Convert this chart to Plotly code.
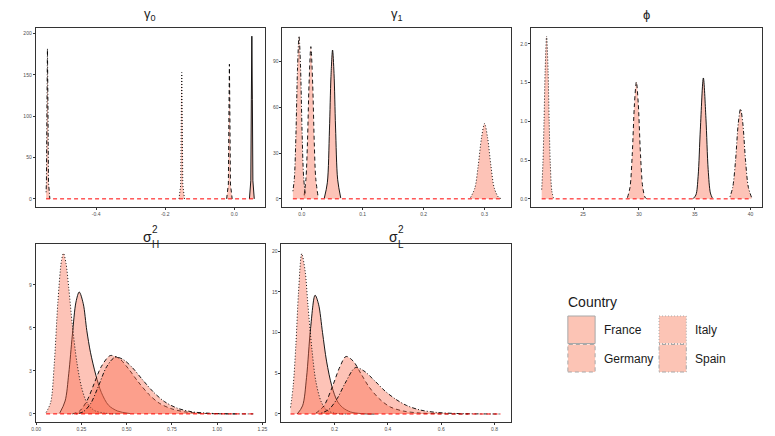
import plotly.graph_objects as go

W, H = 775, 436

countries = ["France", "Germany", "Italy", "Spain"]
dashes = {"France": "solid", "Germany": "4px,3px", "Italy": "1px,2px", "Spain": "1px,2px,4px,2px"}

# ---- gamma_0 ----
g0_france_x = [0.044, 0.048, 0.0495, 0.051, 0.0525, 0.054, 0.058]
g0_france_y = [0, 22, 120, 197, 120, 22, 0]
g0_germany_x = [-0.022, -0.017, -0.0155, -0.014, -0.0125, -0.011, -0.006]
g0_germany_y = [0, 18, 100, 163, 100, 18, 0]
g0_italy_x = [-0.160, -0.155, -0.1535, -0.152, -0.1505, -0.149, -0.144]
g0_italy_y = [0, 17, 93, 153, 93, 17, 0]
g0_spain_x = [-0.545, -0.544, -0.5425, -0.541, -0.5395, -0.538, -0.534]
g0_spain_y = [8, 20, 110, 182, 110, 20, 0]
g0_base = [-0.545, 0.058]

# ---- gamma_1 ----
g1_france_x = [0.037, 0.042, 0.0455, 0.048, 0.0506, 0.053, 0.0555, 0.059, 0.064]
g1_france_y = [0.4, 10.5, 45, 80, 97.4, 82, 47, 12.5, 0.6]
g1_germany_x = [0.004, 0.007, 0.0095, 0.012, 0.015, 0.018, 0.0205, 0.023, 0.027]
g1_germany_y = [2.3, 13.5, 38, 75, 99.6, 75, 38, 13.5, 1.1]
g1_italy_x = [0.277, 0.284, 0.2895, 0.295, 0.300, 0.305, 0.3105, 0.316, 0.323, 0.327]
g1_italy_y = [0.9, 7, 21.5, 40, 49.3, 40, 21.5, 7, 1, 0.2]
g1_spain_x = [-0.0145, -0.012, -0.0095, -0.007, -0.0044, -0.002, 0.0005, 0.003, 0.006]
g1_spain_y = [5, 14, 42, 84, 106.5, 87, 45, 15, 2.2]
g1_base = [-0.0145, 0.3268]

# ---- phi ----
phi_france_x = [34.85, 35.1, 35.3, 35.5, 35.77, 36.0, 36.2, 36.4, 36.57]
phi_france_y = [0.003, 0.05, 0.29, 0.9, 1.56, 1.04, 0.38, 0.075, 0.012]
phi_germany_x = [28.97, 29.2, 29.4, 29.6, 29.77, 29.94, 30.14, 30.34, 30.55, 30.69]
phi_germany_y = [0.015, 0.15, 0.57, 1.23, 1.51, 1.23, 0.57, 0.15, 0.02, 0.003]
phi_italy_x = [21.29, 21.4, 21.5, 21.6, 21.73, 21.86, 21.96, 22.06, 22.2, 22.35]
phi_italy_y = [0.12, 0.46, 1.0, 1.66, 2.1, 1.66, 1.0, 0.46, 0.1, 0.01]
phi_spain_x = [38.15, 38.4, 38.65, 38.9, 39.1, 39.3, 39.55, 39.8, 40.09]
phi_spain_y = [0.026, 0.15, 0.49, 0.98, 1.16, 0.98, 0.49, 0.15, 0.018]
phi_base = [21.29, 40.09]

# ---- sigma^2_H ----
sh_france_x = [0.13, 0.16, 0.18, 0.20, 0.22, 0.238, 0.26, 0.28, 0.30, 0.33, 0.36, 0.40, 0.45, 0.52]
sh_france_y = [0.05, 0.9, 2.8, 5.5, 7.8, 8.5, 7.7, 5.8, 4.3, 2.7, 1.5, 0.6, 0.2, 0.02]
sh_germany_x = [0.20, 0.24, 0.28, 0.32, 0.36, 0.41, 0.46, 0.51, 0.56, 0.62, 0.68, 0.75, 0.82, 0.90, 1.00, 1.10]
sh_germany_y = [0.0, 0.2, 0.9, 2.1, 3.3, 4.07, 3.85, 3.15, 2.3, 1.4, 0.75, 0.35, 0.15, 0.05, 0.01, 0.0]
sh_italy_x = [0.055, 0.08, 0.10, 0.12, 0.14, 0.151, 0.165, 0.18, 0.20, 0.225, 0.25, 0.28, 0.32, 0.38, 0.45]
sh_italy_y = [0.1, 0.8, 3.5, 7.8, 10.7, 11.2, 10.5, 8.8, 6.2, 3.6, 1.9, 0.8, 0.25, 0.05, 0.0]
sh_spain_x = [0.22, 0.26, 0.30, 0.34, 0.39, 0.436, 0.48, 0.53, 0.59, 0.65, 0.71, 0.78, 0.86, 0.95, 1.05, 1.2]
sh_spain_y = [0.0, 0.15, 0.7, 1.8, 3.3, 3.95, 3.8, 3.25, 2.35, 1.5, 0.85, 0.4, 0.15, 0.05, 0.01, 0.0]
sh_base = [0.055, 1.205]

# ---- sigma^2_L ----
sl_france_x = [0.06, 0.08, 0.095, 0.11, 0.127, 0.14, 0.155, 0.17, 0.19, 0.21, 0.23, 0.26, 0.30, 0.35]
sl_france_y = [0.0, 1.0, 4.5, 10.5, 14.6, 13.5, 10.0, 6.5, 3.4, 1.6, 0.8, 0.25, 0.05, 0.0]
sl_germany_x = [0.13, 0.16, 0.19, 0.22, 0.243, 0.27, 0.30, 0.33, 0.37, 0.41, 0.46, 0.52, 0.60, 0.70]
sl_germany_y = [0.1, 1.0, 3.2, 5.8, 7.07, 6.5, 4.9, 3.3, 1.8, 0.85, 0.35, 0.12, 0.03, 0.0]
sl_italy_x = [0.035, 0.045, 0.055, 0.065, 0.077, 0.09, 0.10, 0.115, 0.13, 0.15, 0.17, 0.20, 0.25]
sl_italy_y = [0.8, 3.5, 8.5, 15.0, 19.7, 17.5, 13.5, 8.0, 4.0, 1.5, 0.5, 0.1, 0.0]
sl_spain_x = [0.15, 0.18, 0.21, 0.24, 0.278, 0.31, 0.35, 0.39, 0.43, 0.47, 0.52, 0.58, 0.65, 0.72, 0.82]
sl_spain_y = [0.1, 0.6, 1.9, 3.8, 5.7, 5.3, 4.1, 2.8, 1.8, 1.05, 0.5, 0.2, 0.07, 0.02, 0.0]
sl_base = [0.035, 0.824]

# tick labels
p1_xticks = [-0.4, -0.2, 0.0]; p1_xlabels = ["-0.4", "-0.2", "0.0"]
p1_yticks = [0, 50, 100, 150, 200]; p1_ylabels = ["0", "50", "100", "150", "200"]
p2_xticks = [0.0, 0.1, 0.2, 0.3]; p2_xlabels = ["0.0", "0.1", "0.2", "0.3"]
p2_yticks = [0, 30, 60, 90]; p2_ylabels = ["0", "30", "60", "90"]
p3_xticks = [25, 30, 35, 40]; p3_xlabels = ["25", "30", "35", "40"]
p3_yticks = [0.0, 0.5, 1.0, 1.5, 2.0]; p3_ylabels = ["0.0", "0.5", "1.0", "1.5", "2.0"]
p4_xticks = [0.0, 0.25, 0.5, 0.75, 1.0, 1.25]; p4_xlabels = ["0.00", "0.25", "0.50", "0.75", "1.00", "1.25"]
p4_yticks = [0, 3, 6, 9]; p4_ylabels = ["0", "3", "6", "9"]
p5_xticks = [0.2, 0.4, 0.6, 0.8]; p5_xlabels = ["0.2", "0.4", "0.6", "0.8"]
p5_yticks = [0, 5, 10, 15, 20]; p5_ylabels = ["0", "5", "10", "15", "20"]

panels = [
    dict(curves={"France": (g0_france_x, g0_france_y), "Germany": (g0_germany_x, g0_germany_y),
                 "Italy": (g0_italy_x, g0_italy_y), "Spain": (g0_spain_x, g0_spain_y)},
         base=g0_base, px=(32, 263), py=(28, 207), xr=[-0.575, 0.088], yr=[-9.85, 206.9],
         xt=(p1_xticks, p1_xlabels), yt=(p1_yticks, p1_ylabels), smooth=False),
    dict(curves={"France": (g1_france_x, g1_france_y), "Germany": (g1_germany_x, g1_germany_y),
                 "Italy": (g1_italy_x, g1_italy_y), "Spain": (g1_spain_x, g1_spain_y)},
         base=g1_base, px=(281, 512), py=(28, 207), xr=[-0.0316, 0.344], yr=[-5.33, 111.8],
         xt=(p2_xticks, p2_xlabels), yt=(p2_yticks, p2_ylabels), smooth=True),
    dict(curves={"France": (phi_france_x, phi_france_y), "Germany": (phi_germany_x, phi_germany_y),
                 "Italy": (phi_italy_x, phi_italy_y), "Spain": (phi_spain_x, phi_spain_y)},
         base=phi_base, px=(532, 765), py=(28, 207), xr=[20.35, 41.03], yr=[-0.105, 2.205],
         xt=(p3_xticks, p3_xlabels), yt=(p3_yticks, p3_ylabels), smooth=True),
    dict(curves={"France": (sh_france_x, sh_france_y), "Germany": (sh_germany_x, sh_germany_y),
                 "Italy": (sh_italy_x, sh_italy_y), "Spain": (sh_spain_x, sh_spain_y)},
         base=sh_base, px=(32, 263), py=(244, 422), xr=[-0.0025, 1.2625], yr=[-0.565, 11.85],
         xt=(p4_xticks, p4_xlabels), yt=(p4_yticks, p4_ylabels), smooth=True),
    dict(curves={"France": (sl_france_x, sl_france_y), "Germany": (sl_germany_x, sl_germany_y),
                 "Italy": (sl_italy_x, sl_italy_y), "Spain": (sl_spain_x, sl_spain_y)},
         base=sl_base, px=(280, 512), py=(244, 422), xr=[0.001, 0.863], yr=[-0.985, 20.9],
         xt=(p5_xticks, p5_xlabels), yt=(p5_yticks, p5_ylabels), smooth=True),
]

FILL = "rgba(251,106,74,0.40)"
FONT = "Liberation Sans, Arial, sans-serif"

fig = go.Figure()
layout = dict(width=W, height=H, margin=dict(l=0, r=0, t=0, b=0), autosize=False,
              paper_bgcolor="white", plot_bgcolor="white", showlegend=False,
              font=dict(family=FONT))

for i, p in enumerate(panels, start=1):
    xa = "x" if i == 1 else f"x{i}"
    ya = "y" if i == 1 else f"y{i}"
    for c in countries:
        xs, ys = p["curves"][c]
        fig.add_trace(go.Scatter(
            x=xs, y=ys, xaxis=xa, yaxis=ya, mode="lines", fill="tozeroy", fillcolor=FILL,
            line=dict(color="black", width=0.9, dash=dashes[c],
                      shape="spline" if p["smooth"] else "linear", smoothing=0.9),
            name=c, hoverinfo="skip"))
    fig.add_trace(go.Scatter(x=p["base"], y=[0, 0], xaxis=xa, yaxis=ya, mode="lines",
                             line=dict(color="red", width=1, dash="4px,3px"), hoverinfo="skip"))
    axis_common = dict(showgrid=False, zeroline=False, showline=True, mirror=True,
                       linecolor="#333333", linewidth=1, ticks="outside", ticklen=2,
                       tickwidth=0.8, tickcolor="#333333",
                       tickfont=dict(size=5, color="#4D4D4D", family=FONT))
    layout["xaxis" if i == 1 else f"xaxis{i}"] = dict(
        domain=[p["px"][0] / W, p["px"][1] / W], range=p["xr"], anchor=ya,
        tickmode="array", tickvals=p["xt"][0], ticktext=p["xt"][1], **axis_common)
    layout["yaxis" if i == 1 else f"yaxis{i}"] = dict(
        domain=[1 - p["py"][1] / H, 1 - p["py"][0] / H], range=p["yr"], anchor=xa,
        tickmode="array", tickvals=p["yt"][0], ticktext=p["yt"][1], **axis_common)

annotations = []
def ann(text, xpx, ypx, size, xanchor="center"):
    annotations.append(dict(text=text, x=xpx / W, y=1 - ypx / H, xref="paper", yref="paper",
                            xanchor=xanchor, yanchor="middle", borderpad=0,
                            showarrow=False, font=dict(size=size, color="#1A1A1A", family=FONT)))

# strip titles
ann("γ<sub>0</sub>", (32 + 263) / 2, 15, 13)
ann("γ<sub>1</sub>", (281 + 512) / 2, 15, 13)
ann("ϕ", (532 + 765) / 2, 15, 13)
for cx, sub in [((32 + 263) / 2, "H"), ((280 + 512) / 2, "L")]:
    ann("σ", cx - 3, 237, 14)
    ann("2", cx + 5, 229, 10)
    ann(sub, cx + 5, 244, 10)

# legend
ann("Country", 568, 302, 14, xanchor="left")
legend_items = [("France", 569, 316), ("Germany", 569, 344.5), ("Italy", 661, 316), ("Spain", 661, 344.5)]
shapes = []
for name, lx, ly in legend_items:
    shapes.append(dict(type="rect", xref="paper", yref="paper",
                       x0=lx / W, x1=(lx + 27.5) / W, y0=1 - (ly + 27.5) / H, y1=1 - ly / H,
                       fillcolor="rgba(252,196,181,1)",
                       line=dict(color="#A8A8A8", width=1, dash=dashes[name])))
    ann(name, lx + 35.5, ly + 14, 12, xanchor="left")

layout["annotations"] = annotations
layout["shapes"] = shapes
fig.update_layout(**layout)
fig.write_html("out.html", post_script="document.body.style.margin='0';",
               config={"displayModeBar": False})
